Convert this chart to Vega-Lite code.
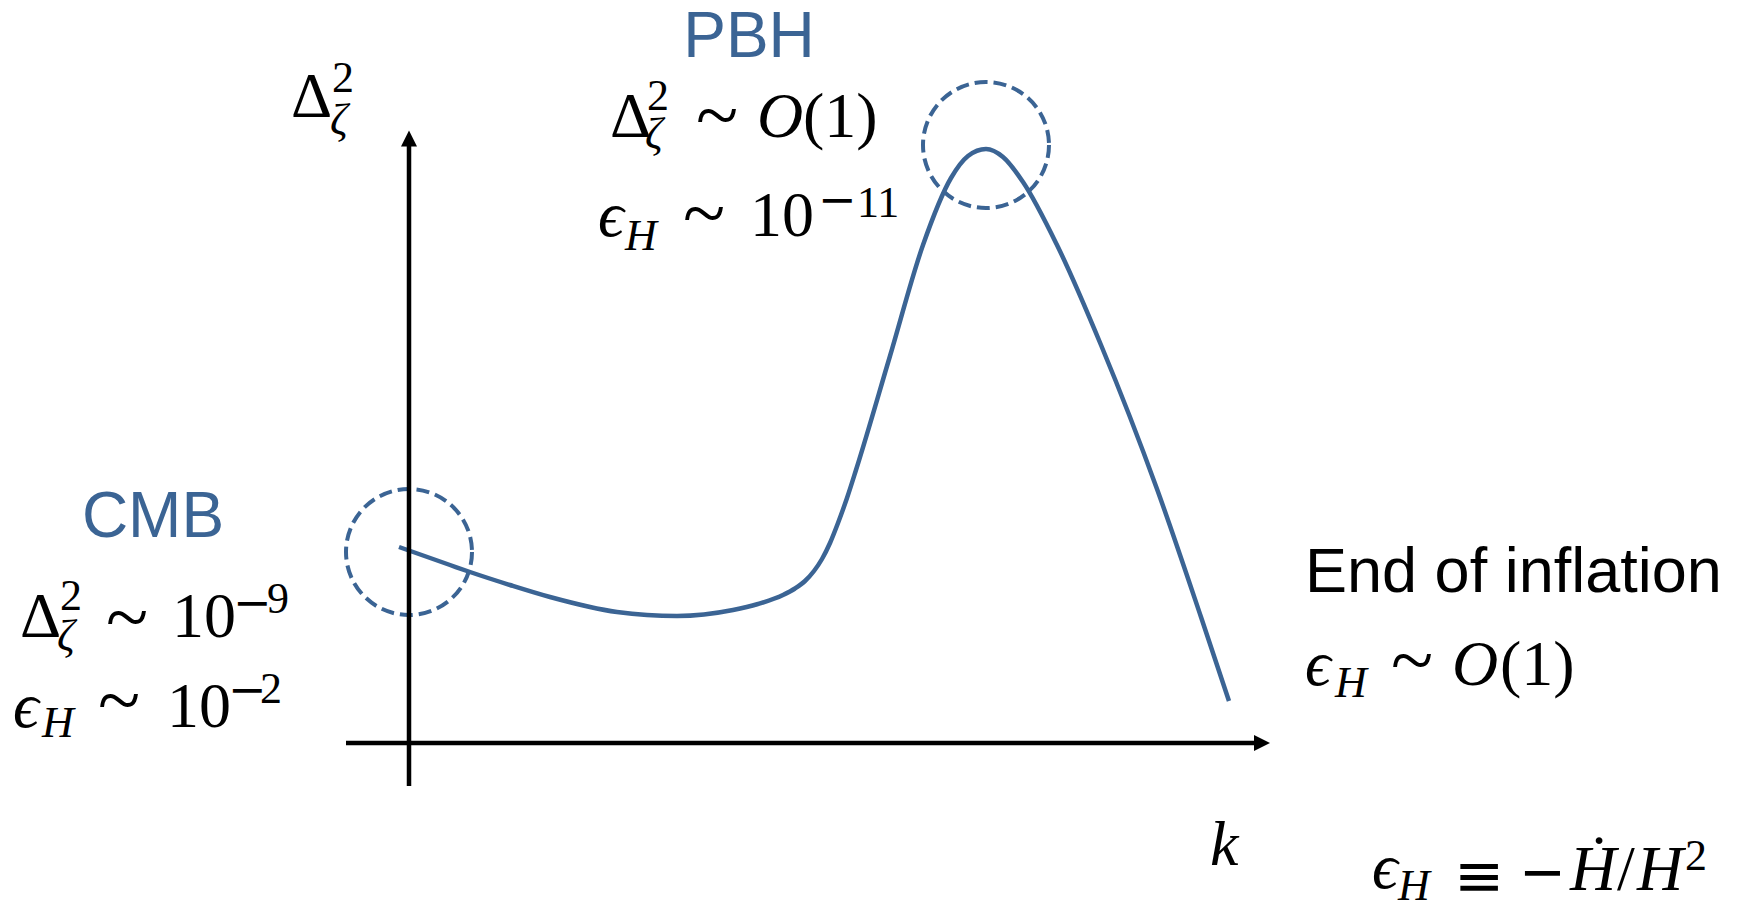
{
  "$schema": "https://vega.github.io/schema/vega-lite/v6.json",
  "width": 1744,
  "height": 907,
  "autosize": {"type": "none"},
  "padding": 0,
  "background": "white",
  "config": {"view": {"stroke": null}},
  "datasets": {
    "spectrum": [
      {"x": -1.0, "y": 19.6}, {"x": 4.1, "y": 17.8}, {"x": 6.1, "y": 17.1}, {"x": 10.1, "y": 15.8},
      {"x": 14.1, "y": 14.6}, {"x": 20.8, "y": 13.1}, {"x": 26.8, "y": 12.7}, {"x": 32.4, "y": 13.3},
      {"x": 34.9, "y": 13.9}, {"x": 37.4, "y": 14.8}, {"x": 38.6, "y": 15.45}, {"x": 39.6, "y": 16.2},
      {"x": 40.5, "y": 17.2}, {"x": 41.3, "y": 18.4}, {"x": 42.1, "y": 20.0}, {"x": 42.9, "y": 22.0},
      {"x": 43.8, "y": 24.5}, {"x": 44.7, "y": 27.3}, {"x": 48.1, "y": 38.7}, {"x": 51.4, "y": 49.8},
      {"x": 54.2, "y": 56.5}, {"x": 55.9, "y": 58.7}, {"x": 57.7, "y": 59.4}, {"x": 59.4, "y": 58.6},
      {"x": 61.4, "y": 56.1}, {"x": 64.8, "y": 49.8}, {"x": 69.2, "y": 39.8}, {"x": 74.8, "y": 25.4},
      {"x": 79.2, "y": 12.6}, {"x": 82.0, "y": 4.2}
    ],
    "regions": [
      {"name": "CMB", "x": 0, "y": 19.1},
      {"name": "PBH", "x": 57.7, "y": 59.8}
    ],
    "axes": [
      {"x": -6.3, "x2": 84.7, "y": 0, "y2": 0},
      {"x": 0, "x2": 0, "y": -4.3, "y2": 59.9}
    ],
    "arrow_k": [{"x": 85.3, "y": 0}],
    "arrow_p": [{"x": 0, "y": 60.45}],
    "titles_blue": [
      {"text": "PBH", "x": 34.0, "y": 68.6},
      {"text": "CMB", "x": -25.6, "y": 20.6}
    ],
    "titles_black": [
      {"text": "End of inflation", "x": 89.6, "y": 15.1}
    ],
    "math_upright": [
      {"text": "Δ", "x": -11.8, "y": 62.6},
      {"text": "Δ", "x": 20.1, "y": 60.6},
      {"text": "(1)", "x": 39.4, "y": 60.6},
      {"text": "10", "x": 34.1, "y": 50.7},
      {"text": "Δ", "x": -38.9, "y": 10.6},
      {"text": "10", "x": -23.7, "y": 10.6},
      {"text": "10", "x": -24.2, "y": 1.6},
      {"text": "(1)", "x": 109.1, "y": 5.8},
      {"text": "/", "x": 120.8, "y": -14.7}
    ],
    "tildes": [
      {"text": "~", "x": 28.7, "y": 60.2},
      {"text": "~", "x": 27.4, "y": 50.4},
      {"text": "~", "x": -30.3, "y": 10.0},
      {"text": "~", "x": -31.1, "y": 1.7},
      {"text": "~", "x": 98.2, "y": 5.7}
    ],
    "identity": [
      {"text": "≡", "x": 104.5, "y": -15.3}
    ],
    "operators": [
      {"text": "−", "x": 111.0, "y": -14.8}
    ],
    "script_minus": [
      {"text": "−", "x": 40.9, "y": 52.8},
      {"text": "−", "x": -17.6, "y": 12.5},
      {"text": "−", "x": -18.1, "y": 3.8}
    ],
    "math_italic": [
      {"text": "O", "x": 34.8, "y": 60.6},
      {"text": "ϵ", "x": 18.9, "y": 50.7},
      {"text": "ϵ", "x": -39.6, "y": 1.6},
      {"text": "ϵ", "x": 89.6, "y": 5.8},
      {"text": "O", "x": 104.3, "y": 5.8},
      {"text": "ϵ", "x": 96.3, "y": -14.5},
      {"text": "Ḣ", "x": 116.1, "y": -14.7},
      {"text": "H", "x": 122.8, "y": -14.7},
      {"text": "k", "x": 80.1, "y": -12.2}
    ],
    "script_upright": [
      {"text": "2", "x": -7.7, "y": 65.1},
      {"text": "2", "x": 23.8, "y": 63.3},
      {"text": "11", "x": 44.8, "y": 52.6},
      {"text": "2", "x": -34.9, "y": 13.3},
      {"text": "9", "x": -14.2, "y": 13.0},
      {"text": "2", "x": -14.9, "y": 4.0},
      {"text": "2", "x": 127.6, "y": -12.7}
    ],
    "script_italic": [
      {"text": "ζ", "x": -7.9, "y": 60.9},
      {"text": "ζ", "x": 23.6, "y": 59.5},
      {"text": "H", "x": 21.6, "y": 49.3},
      {"text": "ζ", "x": -35.2, "y": 9.3},
      {"text": "H", "x": -36.7, "y": 0.6},
      {"text": "H", "x": 92.6, "y": 4.6},
      {"text": "H", "x": 98.9, "y": -15.7}
    ]
  },
  "encoding": {
    "x": {"field": "x", "type": "quantitative", "scale": {"domain": [-40.9, 133.5], "nice": false, "zero": false}, "axis": null},
    "y": {"field": "y", "type": "quantitative", "scale": {"domain": [-16.4, 74.3], "nice": false, "zero": false}, "axis": null}
  },
  "layer": [
    {
      "data": {"name": "spectrum"},
      "mark": {"type": "line", "interpolate": "monotone", "strokeWidth": 4.5, "color": "#3b6494"}
    },
    {
      "data": {"name": "regions"},
      "mark": {"type": "point", "shape": "circle", "size": 15876, "filled": false, "opacity": 1, "stroke": "#3b6494", "strokeWidth": 4, "strokeDash": [13, 6]}
    },
    {
      "data": {"name": "axes"},
      "mark": {"type": "rule", "strokeWidth": 4.5, "color": "black"},
      "encoding": {"x2": {"field": "x2"}, "y2": {"field": "y2"}}
    },
    {
      "data": {"name": "arrow_k"},
      "mark": {"type": "point", "shape": "M-1,-1L1,0L-1,1Z", "size": 256, "filled": true, "opacity": 1, "color": "black", "strokeWidth": 0}
    },
    {
      "data": {"name": "arrow_p"},
      "mark": {"type": "point", "shape": "M-1,1L0,-1L1,1Z", "size": 256, "filled": true, "opacity": 1, "color": "black", "strokeWidth": 0}
    },
    {
      "data": {"name": "titles_blue"},
      "mark": {"type": "text", "font": "Liberation Sans", "fontSize": 64, "color": "#3b6494", "align": "center", "baseline": "alphabetic"},
      "encoding": {"text": {"field": "text"}}
    },
    {
      "data": {"name": "titles_black"},
      "mark": {"type": "text", "font": "Liberation Sans", "fontSize": 63, "color": "black", "align": "left", "baseline": "alphabetic"},
      "encoding": {"text": {"field": "text"}}
    },
    {
      "data": {"name": "math_upright"},
      "mark": {"type": "text", "font": "Liberation Serif", "fontSize": 64, "color": "black", "align": "left", "baseline": "alphabetic"},
      "encoding": {"text": {"field": "text"}}
    },
    {
      "data": {"name": "tildes"},
      "mark": {"type": "text", "font": "Liberation Serif", "fontSize": 78, "color": "black", "align": "left", "baseline": "alphabetic"},
      "encoding": {"text": {"field": "text"}}
    },
    {
      "data": {"name": "identity"},
      "mark": {"type": "text", "font": "DejaVu Sans", "fontSize": 60, "color": "black", "align": "left", "baseline": "alphabetic"},
      "encoding": {"text": {"field": "text"}}
    },
    {
      "data": {"name": "operators"},
      "mark": {"type": "text", "font": "DejaVu Sans", "fontSize": 56, "color": "black", "align": "left", "baseline": "alphabetic"},
      "encoding": {"text": {"field": "text"}}
    },
    {
      "data": {"name": "script_minus"},
      "mark": {"type": "text", "font": "DejaVu Sans", "fontSize": 46, "color": "black", "align": "left", "baseline": "alphabetic"},
      "encoding": {"text": {"field": "text"}}
    },
    {
      "data": {"name": "math_italic"},
      "mark": {"type": "text", "font": "Liberation Serif", "fontStyle": "italic", "fontSize": 64, "color": "black", "align": "left", "baseline": "alphabetic"},
      "encoding": {"text": {"field": "text"}}
    },
    {
      "data": {"name": "script_upright"},
      "mark": {"type": "text", "font": "Liberation Serif", "fontSize": 44, "color": "black", "align": "left", "baseline": "alphabetic"},
      "encoding": {"text": {"field": "text"}}
    },
    {
      "data": {"name": "script_italic"},
      "mark": {"type": "text", "font": "Liberation Serif", "fontStyle": "italic", "fontSize": 44, "color": "black", "align": "left", "baseline": "alphabetic"},
      "encoding": {"text": {"field": "text"}}
    }
  ]
}
